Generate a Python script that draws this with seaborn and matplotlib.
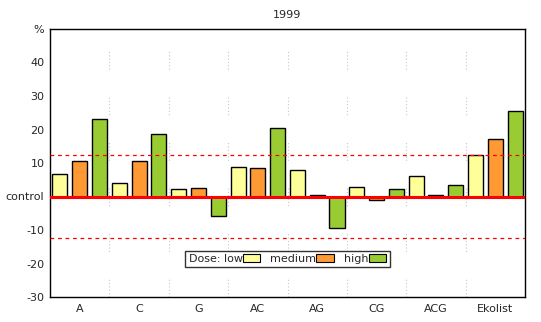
import matplotlib
matplotlib.use("Agg")
import matplotlib.pyplot as plt
import seaborn as sns
import pandas as pd
import numpy as np
from matplotlib.patches import Patch

categories = ["A", "C", "G", "AC", "AG", "CG", "ACG", "Ekolist"]
doses = ["low", "medium", "high"]
low = [6.7, 4.1, 2.3, 8.9, 8.0, 2.9, 6.0, 12.3]
medium = [10.7, 10.7, 2.6, 8.6, 0.5, -1.0, 0.4, 17.3]
high = [23.2, 18.8, -5.8, 20.3, -9.4, 2.3, 3.5, 25.4]
yticks = [-30, -20, -10, 0, 10, 20, 30, 40, 50]
yticklabels = ["-30", "-20", "-10", "control", "10", "20", "30", "40", "%"]
threshold = 12.5
title = "1999"
colors = ["#FFFF99", "#FF9933", "#99CC33"]

rows = []
for i, c in enumerate(categories):
    for d, vals in zip(doses, [low, medium, high]):
        rows.append({"group": c, "dose": d, "value": vals[i]})
df = pd.DataFrame(rows)

sns.set_style("white")
plt.rcParams["font.family"] = ["DejaVu Sans"]
fig = plt.figure(figsize=(5.41, 3.22), dpi=100)
ax = fig.add_axes([50/541, 1-297/322, 475/541, 268/322])

sns.barplot(data=df, x="group", y="value", hue="dose", hue_order=doses,
            palette=colors, width=1.0, gap=0.24, edgecolor="black",
            linewidth=1.0, ax=ax, legend=False, saturation=1)

ax.set_xlim(-0.5, len(categories) - 0.5)
ax.set_ylim(-30, 50)

# grid at group boundaries
for b in np.arange(0.5, len(categories) - 0.5, 1.0):
    ax.axvline(b, color="#c4c4dc", lw=0.8,
               dashes=[1, 2, 1, 2, 1, 2, 1, 2, 1, 2, 1, 25], zorder=0)

ax.axhline(0, color="#ff0000", lw=2.2, zorder=5)
ax.axhline(threshold, color="#ff0000", lw=0.9, dashes=[3, 3], zorder=4)
ax.axhline(-threshold, color="#ff0000", lw=0.9, dashes=[3, 3], zorder=4)

ax.set_yticks(yticks)
ax.set_yticklabels(yticklabels, fontsize=8)
ax.set_xticks(range(len(categories)))
ax.set_xticklabels(categories, fontsize=8)
ax.tick_params(axis="x", which="major", length=0, pad=5)
ax.set_xticks(np.arange(0.5, len(categories) - 0.5, 1.0), minor=True)
ax.tick_params(axis="x", which="minor", direction="in", length=3, color="black")
ax.tick_params(axis="y", length=2, direction="out", color="black", pad=2)
ax.set_xlabel("")
ax.set_ylabel("")
ax.set_title(title, fontsize=8, pad=8)

for s in ax.spines.values():
    s.set_visible(True)
    s.set_color("black")
    s.set_linewidth(1.0)

handles = [Patch(facecolor=c, edgecolor="black", lw=0.8) for c in colors]
leg = ax.legend(handles, ["Dose: low", "medium", "high"], ncol=3,
                markerfirst=False, loc="center", bbox_to_anchor=(0.5, 0.142),
                fontsize=8, frameon=True, fancybox=False, edgecolor="black",
                handlelength=1.6, handleheight=0.6, handletextpad=0.0,
                columnspacing=0.9, borderpad=0.3, borderaxespad=0)
leg.get_frame().set_linewidth(1.0)

fig.savefig("out.png", dpi=100)
